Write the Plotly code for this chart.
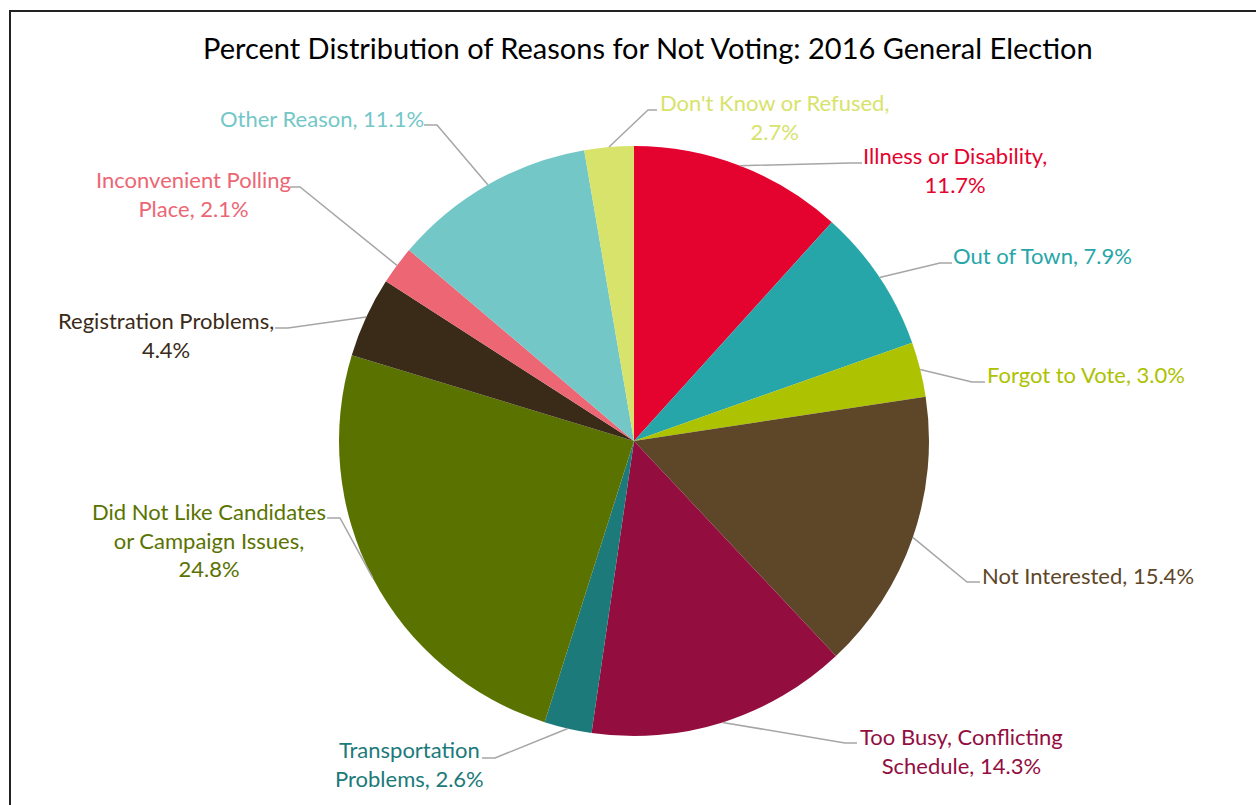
import math
import plotly.graph_objects as go

# ---- data ----
reasons = [
    "Illness or Disability",
    "Out of Town",
    "Forgot to Vote",
    "Not Interested",
    "Too Busy, Conflicting Schedule",
    "Transportation Problems",
    "Did Not Like Candidates or Campaign Issues",
    "Registration Problems",
    "Inconvenient Polling Place",
    "Other Reason",
    "Don't Know or Refused",
]
percents = [11.7, 7.9, 3.0, 15.4, 14.3, 2.6, 24.8, 4.4, 2.1, 11.1, 2.7]
label_texts = [
    "Illness or Disability,<br>11.7%",
    "Out of Town, 7.9%",
    "Forgot to Vote, 3.0%",
    "Not Interested, 15.4%",
    "Too Busy, Conflicting<br>Schedule, 14.3%",
    "Transportation<br>Problems, 2.6%",
    "Did Not Like Candidates<br>or Campaign Issues,<br>24.8%",
    "Registration Problems,<br>4.4%",
    "Inconvenient Polling<br>Place, 2.1%",
    "Other Reason, 11.1%",
    "Don't Know or Refused,<br>2.7%",
]
title_text = "Percent Distribution of Reasons for Not Voting: 2016 General Election"

# ---- styles ----
colors = ["#E4032E", "#26A6A8", "#ADC200", "#5E4628", "#930E3F", "#1C7A7A",
          "#5A7300", "#3A2A18", "#EC6674", "#74C7C7", "#D7E36B"]
W, H = 1256, 805
CX, CY, R = 634, 441, 295  # pie centre / radius in pixels
FONT = "Lato"
FS = 22

# leader-line elbow, end point and label anchor (pixels), per label
elbows = [(850, 163), (940, 263), (972, 382), (967, 582), (845, 743), (495, 758),
          (340, 518), (288, 328), (300, 187), (437, 125), (648, 110)]
ends = [(862, 163), (952, 263), (985, 382), (980, 582), (857, 743), (482, 758),
        (327, 518), (275, 328), (290, 187), (424, 125), (657, 110)]
anchors = [(861, 170), (951, 255), (985, 374), (980, 575), (858, 751), (486, 764),
           (328, 540), (276, 335), (293, 194), (426, 118), (658, 117)]
sides = ["left", "left", "left", "left", "left", "right",
         "right", "right", "right", "right", "left"]


def px(x):
    return x / W


def py(y):
    return 1 - y / H


fig = go.Figure(go.Pie(
    labels=reasons,
    values=percents,
    sort=False,
    direction="clockwise",
    rotation=0,
    marker=dict(colors=colors, line=dict(width=0)),
    textinfo="none",
    hoverinfo="label+percent",
    showlegend=False,
    domain=dict(x=[px(CX - R), px(CX + R)], y=[py(CY + R), py(CY - R)]),
))

shapes = []
annotations = []
total = sum(percents)
cum = 0.0
for i, v in enumerate(percents):
    mid = (cum + v / 2) / total * 2 * math.pi
    cum += v
    ex = CX + R * math.sin(mid)
    ey = CY - R * math.cos(mid)
    (bx, by), (tx, ty) = elbows[i], ends[i]
    path = f"M {px(ex)},{py(ey)} L {px(bx)},{py(by)} L {px(tx)},{py(ty)}"
    shapes.append(dict(type="path", path=path, xref="paper", yref="paper",
                       line=dict(color="#A6A6A6", width=1.5)))
    ax_, ay_ = anchors[i]
    annotations.append(dict(
        x=px(ax_), y=py(ay_), xref="paper", yref="paper",
        text=label_texts[i], showarrow=False,
        xanchor=sides[i], yanchor="middle", align="center",
        font=dict(family=FONT, size=FS, color=colors[i]),
    ))

annotations.append(dict(
    x=px(648), y=py(47), xref="paper", yref="paper", text=title_text,
    showarrow=False, xanchor="center", yanchor="middle",
    font=dict(family=FONT, size=29, color="#000000"),
))

# chart frame
shapes.append(dict(type="rect", xref="paper", yref="paper",
                   x0=px(10), y0=-0.05, x1=1.05, y1=py(11),
                   line=dict(color="#222222", width=2), fillcolor="rgba(0,0,0,0)"))

fig.update_layout(
    width=W, height=H,
    margin=dict(l=0, r=0, t=0, b=0),
    paper_bgcolor="white",
    plot_bgcolor="white",
    shapes=shapes,
    annotations=annotations,
    font=dict(family=FONT),
)

fig.write_html("out.html")
